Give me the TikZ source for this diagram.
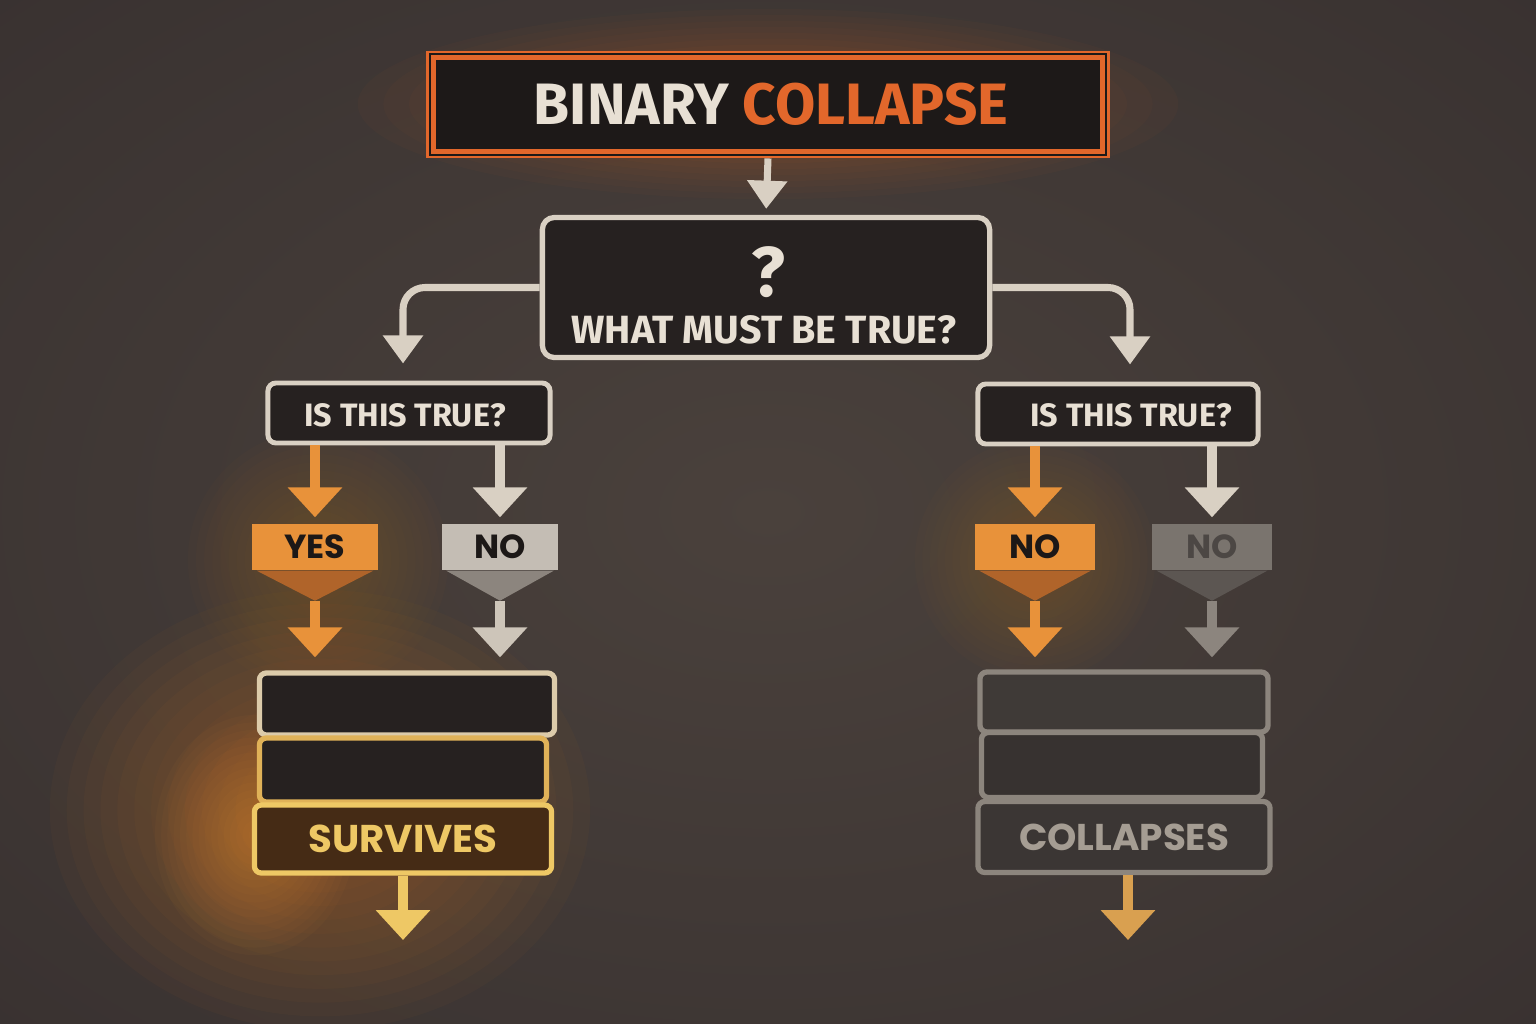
\documentclass[tikz,border=0pt]{standalone}
\usepackage{fontspec}
\setmainfont{Fira Sans}
\newfontfamily\popfont{Poppins}
\usetikzlibrary{arrows.meta,calc}
\definecolor{bgmid}{HTML}{4A413C}
\definecolor{bgmid2}{HTML}{383130}
\definecolor{bgedge}{HTML}{1C1817}
\definecolor{boxfill}{HTML}{262120}
\definecolor{titlefill}{HTML}{1D1918}
\definecolor{lightline}{HTML}{D9D0C3}
\definecolor{titlewhite}{HTML}{E8E0D4}
\definecolor{titleorange}{HTML}{E2672B}
\definecolor{orangeA}{HTML}{E8923A}
\definecolor{orangeD}{HTML}{B0642A}
\definecolor{grayA}{HTML}{C4BDB4}
\definecolor{grayD}{HTML}{8C857E}
\definecolor{fadeA}{HTML}{7A746E}
\definecolor{fadeD}{HTML}{5C5652}
\definecolor{fadeT}{HTML}{4C4744}
\definecolor{inkdark}{HTML}{1C1817}
\definecolor{gold}{HTML}{EEC865}
\definecolor{goldB}{HTML}{E0B258}
\definecolor{warmline}{HTML}{DCCBAA}
\definecolor{fadeline}{HTML}{8C857D}
\definecolor{fadetext}{HTML}{A59D93}
\definecolor{glow}{HTML}{C8701E}
\definecolor{arrgoldR}{HTML}{D9A050}
\pgfdeclareradialshading{vign}{\pgfpoint{0bp}{0bp}}{color(0bp)=(bgmid); color(38bp)=(bgmid2); color(71bp)=(bgedge)}
% soft glow: concentric translucent ellipses
\newcommand\glowat[5]{%
  \foreach \k in {1,...,16}{\fill[#1, fill opacity=#5] (#2) ellipse ({#3*\k/16*1cm} and {#4*\k/16*1cm});}%
}
\newcommand\signtag[8]{%
  \node[tagbox, fill=#5, minimum width=#4cm] (#1) at (#2,#3) {\textcolor{#7}{#8}};
  \fill[#6] ($(#1.south west)+(5,0)$) -- ($(#1.south)+(0,30)$) -- ($(#1.south east)+(-5,0)$) -- cycle;
  \coordinate (#1tip) at ($(#1.south)+(0,30)$);
}
\begin{document}
\begin{tikzpicture}[x=0.01cm,y=-0.01cm,
  qbox/.style={draw=lightline, fill=boxfill, line width=1.4pt, rounded corners=0.08cm, inner sep=0pt},
  tagbox/.style={minimum height=0.46cm, inner sep=0pt, font=\popfont\bfseries\fontsize{9.5}{11}\selectfont},
  stackbox/.style={fill=boxfill, line width=1.5pt, rounded corners=0.07cm, inner sep=0pt},
  arrw/.style={draw=lightline, line width=2pt, -{Triangle[width=11pt,length=8pt]}},
  arrbig/.style={line width=2.6pt, -{Triangle[width=15pt,length=8.5pt]}},
]
\useasboundingbox (0,0) rectangle (1536,1024);
\shade[shading=vign] (0,0) rectangle (1536,1024);
% mottling
\glowat{bgmid}{760,560}{4.6}{3.8}{0.04}
% glows
\glowat{glow}{320,810}{2.7}{2.2}{0.045}
\glowat{orangeA}{255,835}{1.0}{1.2}{0.04}
\glowat{glow}{318,560}{1.3}{1.3}{0.025}
\glowat{glow}{1035,560}{1.2}{1.2}{0.022}
\glowat{titleorange}{768,104}{4.1}{0.95}{0.03}

% title
\node[fill=titlefill, draw=titleorange, line width=0.8pt, minimum width=6.8cm, minimum height=1.05cm, inner sep=0pt] (title) at (768,104.5) {};
\draw[titleorange, line width=1.4pt] ($(title.north west)+(7,7)$) rectangle ($(title.south east)+(-7,-7)$);
\node[font=\bfseries\fontsize{16.6}{20}\selectfont] (titletext) at (771,104) {\textcolor{titlewhite}{BINARY} \textcolor{titleorange}{COLLAPSE}};

% main question box
\node[qbox, line width=1.5pt, rounded corners=0.12cm, minimum width=4.47cm, minimum height=1.4cm] (main) at (766,287.5) {};
\node[font=\bfseries\fontsize{20}{22}\selectfont, text=titlewhite] (qmark) at (768,272) {?};
\node[font=\bfseries\fontsize{11.2}{13}\selectfont, text=titlewhite] (mainq) at (764,330) {WHAT MUST BE TRUE?};
\draw[arrw, shorten >=0.06cm] (title.south) -- (main.north);

% second-level questions
\node[qbox, minimum width=2.82cm, minimum height=0.6cm] (lq) at (409,413) {};
\node[font=\bfseries\fontsize{9.2}{11}\selectfont, text=titlewhite] (lqt) at (405,415) {IS THIS TRUE?};
\node[qbox, minimum width=2.8cm, minimum height=0.6cm] (rq) at (1118,414) {};
\node[font=\bfseries\fontsize{9.2}{11}\selectfont, text=titlewhite] (rqt) at (1131,415) {IS THIS TRUE?};
\draw[arrw, rounded corners=0.22cm, shorten >=0.17cm] (main.west) -| ($(lq.north)+(-6,0)$);
\draw[arrw, rounded corners=0.22cm, shorten >=0.17cm] (main.east) -| ($(rq.north)+(12,0)$);

% tags
\signtag{yes}{315}{547}{1.25}{orangeA}{orangeD}{inkdark}{YES}
\signtag{nol}{500}{547}{1.16}{grayA}{grayD}{inkdark}{NO}
\signtag{nor}{1035}{547}{1.2}{orangeA}{orangeD}{inkdark}{NO}
\signtag{nog}{1212}{547}{1.19}{fadeA}{fadeD}{fadeT}{NO}

\draw[arrbig, draw=orangeA, shorten >=0.06cm] (lq.south -| yes.north) -- (yes.north);
\draw[arrbig, draw=lightline, shorten >=0.06cm] (lq.south -| nol.north) -- (nol.north);
\draw[arrbig, draw=orangeA, shorten >=0.06cm] (rq.south -| nor.north) -- (nor.north);
\draw[arrbig, draw=lightline, shorten >=0.06cm] (rq.south -| nog.north) -- (nog.north);

% left stack
\node[stackbox, draw=warmline, minimum width=2.95cm, minimum height=0.62cm] (ls1) at (407,704) {};
\node[stackbox, draw=goldB, minimum width=2.87cm, minimum height=0.64cm] (ls2) at (403,770) {};
\node[stackbox, draw=gold, fill=black!55!glow!60!boxfill, minimum width=2.97cm, minimum height=0.68cm,
      font=\popfont\bfseries\fontsize{11}{13}\selectfont, text=gold] (ls3) at (403,839) {SURVIVES};

% right stack
\node[stackbox, draw=fadeline, fill=fadeA!30!boxfill, minimum width=2.88cm, minimum height=0.6cm] (rs1) at (1124,702) {};
\node[stackbox, draw=fadeline, fill=fadeA!20!boxfill, minimum width=2.81cm, minimum height=0.65cm] (rs2) at (1122,765) {};
\node[stackbox, draw=fadeline, fill=fadeA!25!boxfill, minimum width=2.92cm, minimum height=0.71cm,
      font=\popfont\bfseries\fontsize{10.6}{13}\selectfont, text=fadetext] (rs3) at (1124,837) {COLLAPSES};

% tag to stack arrows
\draw[arrbig, draw=orangeA, shorten >=0.13cm] (yestip) -- (ls1.north -| yestip);
\draw[arrbig, draw=lightline!85!grayD, shorten >=0.13cm] (noltip) -- (ls1.north -| noltip);
\draw[arrbig, draw=orangeA, shorten >=0.12cm] (nortip) -- (rs1.north -| nortip);
\draw[arrbig, draw=grayD, shorten >=0.12cm] (nogtip) -- (rs1.north -| nogtip);

% final arrows
\coordinate (lend) at (403,940);
\coordinate (rend) at (1128,940);
\draw[arrbig, draw=gold] (ls3.south) -- (lend);
\draw[arrbig, draw=arrgoldR] (rs3.south -| rend) -- (rend);
\end{tikzpicture}
\end{document}
